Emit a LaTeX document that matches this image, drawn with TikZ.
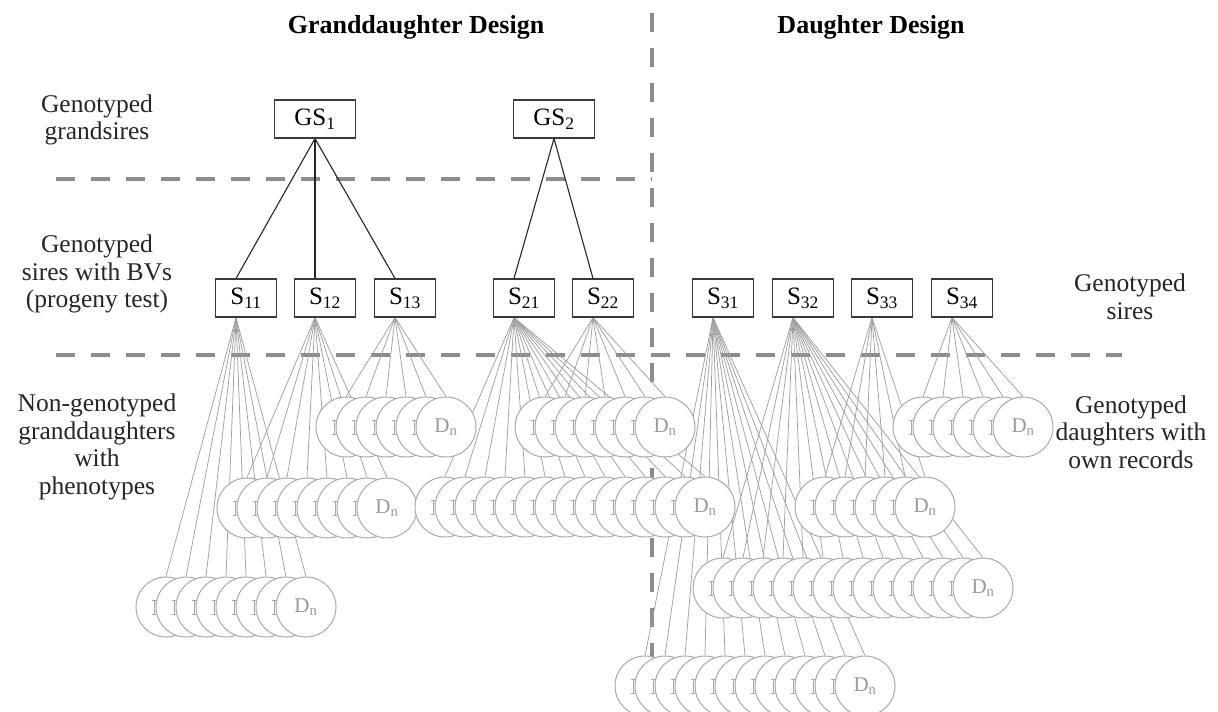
\documentclass[tikz,border=0pt]{standalone}
\usepackage{fontspec}
\setmainfont{Liberation Serif}
\usetikzlibrary{calc}
\pgfdeclarelayer{back}
\pgfdeclarelayer{bg}
\pgfsetlayers{back,bg,main}
\definecolor{dashgrey}{HTML}{8C8C8C}
\definecolor{fangrey}{HTML}{A0A0A0}
\definecolor{circgrey}{HTML}{A8A8A8}
\definecolor{txtgrey}{HTML}{9A9A9A}
\definecolor{boxline}{HTML}{3A3A3A}
\tikzset{
  sbox/.style={draw=boxline, line width=1.1pt, fill=white, minimum width=61pt, minimum height=38pt, inner sep=0pt, font=\fontsize{25}{25}\selectfont},
  gsbox/.style={sbox, minimum width=81pt},
  dcirc/.style={circle, draw=circgrey, line width=1pt, fill=white, minimum size=60pt, inner sep=0pt},
  fanline/.style={draw=fangrey, line width=0.75pt},
  treeline/.style={draw=black!85, line width=1.1pt},
  sepline/.style={draw=dashgrey, line width=4pt, dash pattern=on 19pt off 16pt},
  lbl/.style={align=center, font=\fontsize{25.5}{27.5}\selectfont, text=black!85},
  ttl/.style={font=\fontsize{26}{26}\selectfont\bfseries},
  stemline/.style={draw=circgrey, line width=1pt},
  dn/.style={text=txtgrey, font=\fontsize{21}{21}\selectfont, inner sep=0pt}
}
\newcommand{\dgroup}[5]{%
  \foreach \k in {1,...,#5}{
    \pgfmathsetmacro{\cx}{#3+20*(\k-1)}
    \node[dcirc] (#1\k) at (\cx,#4) {};
    \begin{pgfonlayer}{bg}
      \draw[fanline] ([xshift=-10pt]#2.south) -- (#1\k.north);
    \end{pgfonlayer}
    \ifnum\k<#5
      \draw[stemline] (\cx-11.5,#4-7) -- (\cx-11.5,#4+7);
      \draw[stemline] (\cx-14,#4-7) -- (\cx-10.5,#4-7);
      \draw[stemline] (\cx-14,#4+7) -- (\cx-10.5,#4+7);
    \else
      \node[dn] (#1n) at (\cx,#4) {D\textsubscript{n}};
    \fi
  }
}
\begin{document}
\begin{tikzpicture}[x=1pt,y=-1pt]
\useasboundingbox (0,0) rectangle (1218,712);
\begin{pgfonlayer}{back}
  \fill[white] (0,0) rectangle (1218,712);
  \draw[sepline] (56,179) -- (652,179);
  \draw[sepline] (56,355) -- (1122,355);
  \draw[sepline] (652,13) -- (652,712);
\end{pgfonlayer}

% titles
\node[ttl, anchor=base] (T1) at (416,33) {Granddaughter Design};
\node[ttl, anchor=base] (T2) at (871,33) {Daughter Design};

% row labels
\node[lbl] (L1) at (97,120) {Genotyped\\grandsires};
\node[lbl] (L2) at (97,274) {Genotyped\\sires with BVs\\(progeny test)};
\node[lbl] (L3) at (97,447) {Non-genotyped\\granddaughters\\with\\phenotypes};
\node[lbl] (R1) at (1130,297) {Genotyped\\sires};
\node[lbl] (R2) at (1131,432) {Genotyped\\daughters with\\own records};

% boxes
\node[gsbox] (GS1) at (315,119) {GS\textsubscript{1}};
\node[gsbox] (GS2) at (554,119) {GS\textsubscript{2}};
\node[sbox] (S11) at (246,298) {S\textsubscript{11}};
\node[sbox] (S12) at (325,298) {S\textsubscript{12}};
\node[sbox] (S13) at (405,298) {S\textsubscript{13}};
\node[sbox] (S21) at (524,298) {S\textsubscript{21}};
\node[sbox] (S22) at (603,298) {S\textsubscript{22}};
\node[sbox] (S31) at (723,298) {S\textsubscript{31}};
\node[sbox] (S32) at (803,298) {S\textsubscript{32}};
\node[sbox] (S33) at (882,298) {S\textsubscript{33}};
\node[sbox] (S34) at (962,298) {S\textsubscript{34}};

\begin{pgfonlayer}{bg}
  \draw[treeline] (GS1.south) -- ([xshift=-10pt]S11.north);
  \draw[treeline] (GS1.south) -- ([xshift=-10pt]S12.north);
  \draw[treeline] (GS1.south) -- ([xshift=-10pt]S13.north);
  \draw[treeline] (GS2.south) -- ([xshift=-10pt]S21.north);
  \draw[treeline] (GS2.south) -- ([xshift=-10pt]S22.north);
\end{pgfonlayer}

% daughter groups: name, sire, first centre x, centre y, count
\dgroup{A}{S13}{346}{427}{6}
\dgroup{E}{S22}{545}{427}{7}
\dgroup{F}{S34}{923}{427}{6}
\dgroup{B}{S12}{247}{508}{8}
\dgroup{D}{S21}{445}{507}{14}
\dgroup{G}{S33}{825}{507}{6}
\dgroup{H}{S32}{723}{588}{14}
\dgroup{C}{S11}{166}{607}{8}
\dgroup{I}{S31}{645}{686}{12}
\end{tikzpicture}
\end{document}
